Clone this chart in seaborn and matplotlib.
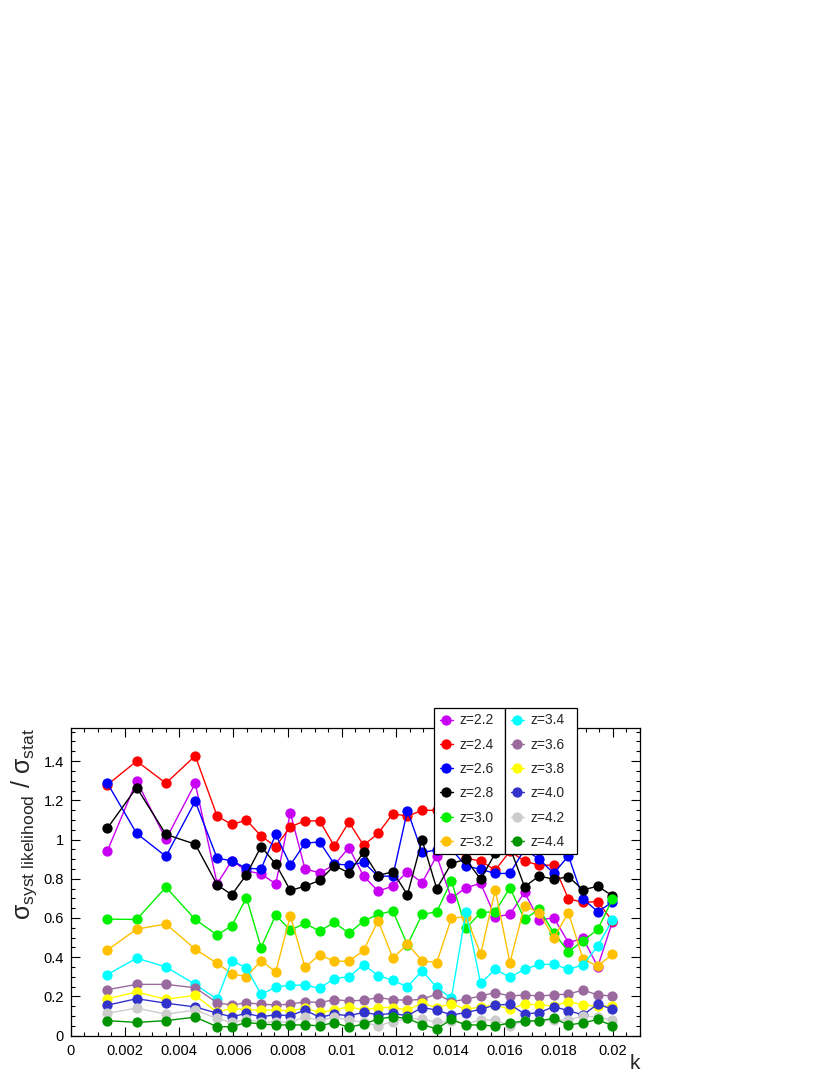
import numpy as np
import pandas as pd
import matplotlib
matplotlib.use("Agg")
import matplotlib.pyplot as plt
from matplotlib.lines import Line2D
from matplotlib.ticker import MultipleLocator
import seaborn as sns

sns.set_style("ticks")
plt.rcParams["font.family"] = ["Liberation Sans", "DejaVu Sans"]
plt.rcParams["mathtext.fontset"] = "custom"
plt.rcParams["mathtext.rm"] = "Liberation Sans"
plt.rcParams["mathtext.it"] = "Liberation Sans:italic"

# k bins
k = [0.00135, 0.00243, 0.00351, 0.00459, 0.00540, 0.00594, 0.00648, 0.00702,
     0.00756, 0.00810, 0.00864, 0.00918, 0.00972, 0.01026, 0.01080, 0.01134,
     0.01188, 0.01242, 0.01296, 0.01350, 0.01404, 0.01458, 0.01512, 0.01566,
     0.01620, 0.01674, 0.01728, 0.01782, 0.01836, 0.01890, 0.01944, 0.01998]

z22 = [0.942, 1.299, 1.001, 1.287, 0.774, 0.892, 0.841, 0.824, 0.774, 1.136, 0.850, 0.830,
       0.870, 0.959, 0.813, 0.737, 0.762, 0.836, 0.779, 0.917, 0.700, 0.754, 0.776, 0.606,
       0.618, 0.730, 0.589, 0.601, 0.474, 0.496, 0.351, 0.580]
z24 = [1.279, 1.400, 1.287, 1.427, 1.119, 1.077, 1.099, 1.018, 0.964, 1.065, 1.095, 1.095,
       0.967, 1.089, 0.971, 1.031, 1.132, 1.119, 1.149, 1.149, 1.020, 0.905, 0.890, 0.844,
       0.940, 0.890, 0.869, 0.869, 0.697, 0.680, 0.683, 0.585]
z26 = [1.287, 1.031, 0.914, 1.195, 0.904, 0.892, 0.853, 0.850, 1.026, 0.870, 0.981, 0.988,
       0.875, 0.870, 0.883, 0.813, 0.813, 1.148, 0.934, 0.947, 0.950, 0.865, 0.848, 0.827,
       0.827, 0.950, 0.900, 0.827, 0.917, 0.697, 0.632, 0.680]
z28 = [1.058, 1.265, 1.026, 0.976, 0.769, 0.718, 0.821, 0.964, 0.875, 0.740, 0.762, 0.791,
       0.867, 0.830, 0.934, 0.816, 0.836, 0.718, 0.998, 0.749, 0.878, 0.899, 0.797, 0.930,
       0.960, 0.759, 0.814, 0.797, 0.810, 0.743, 0.762, 0.713]
z30 = [0.594, 0.592, 0.757, 0.592, 0.513, 0.560, 0.703, 0.449, 0.614, 0.538, 0.572, 0.533,
       0.577, 0.522, 0.584, 0.618, 0.636, 0.463, 0.618, 0.631, 0.790, 0.547, 0.627, 0.632,
       0.754, 0.593, 0.645, 0.524, 0.428, 0.484, 0.541, 0.695]
z32 = [0.436, 0.543, 0.569, 0.441, 0.368, 0.316, 0.300, 0.382, 0.325, 0.611, 0.348, 0.412,
       0.379, 0.379, 0.434, 0.586, 0.395, 0.466, 0.382, 0.372, 0.598, 0.607, 0.416, 0.742,
       0.372, 0.661, 0.627, 0.499, 0.627, 0.389, 0.355, 0.414]
z34 = [0.311, 0.395, 0.350, 0.261, 0.185, 0.382, 0.345, 0.210, 0.247, 0.257, 0.257, 0.241,
       0.291, 0.300, 0.362, 0.306, 0.281, 0.249, 0.331, 0.246, 0.190, 0.632, 0.266, 0.338,
       0.297, 0.338, 0.363, 0.363, 0.338, 0.360, 0.457, 0.589]
z36 = [0.234, 0.261, 0.261, 0.244, 0.167, 0.156, 0.167, 0.160, 0.156, 0.160, 0.173, 0.168,
       0.183, 0.177, 0.180, 0.194, 0.183, 0.180, 0.185, 0.212, 0.173, 0.185, 0.202, 0.219,
       0.202, 0.207, 0.202, 0.207, 0.212, 0.232, 0.207, 0.202]
z38 = [0.188, 0.222, 0.185, 0.205, 0.118, 0.140, 0.131, 0.130, 0.130, 0.126, 0.140, 0.118,
       0.130, 0.148, 0.130, 0.143, 0.143, 0.131, 0.165, 0.143, 0.161, 0.134, 0.145, 0.156,
       0.134, 0.161, 0.156, 0.151, 0.173, 0.156, 0.150, 0.151]
z40 = [0.155, 0.188, 0.165, 0.146, 0.114, 0.096, 0.113, 0.096, 0.106, 0.101, 0.130, 0.093,
       0.109, 0.101, 0.118, 0.106, 0.113, 0.101, 0.143, 0.130, 0.105, 0.117, 0.134, 0.156,
       0.159, 0.110, 0.117, 0.147, 0.127, 0.105, 0.161, 0.134]
z42 = [0.114, 0.140, 0.109, 0.130, 0.087, 0.067, 0.084, 0.067, 0.071, 0.067, 0.096, 0.076,
       0.093, 0.079, 0.067, 0.050, 0.071, 0.087, 0.084, 0.067, 0.075, 0.060, 0.079, 0.079,
       0.048, 0.075, 0.072, 0.079, 0.080, 0.099, 0.095, 0.079]
z44 = [0.076, 0.067, 0.076, 0.094, 0.045, 0.045, 0.067, 0.059, 0.054, 0.054, 0.054, 0.050,
       0.066, 0.042, 0.059, 0.084, 0.096, 0.087, 0.056, 0.034, 0.082, 0.054, 0.054, 0.048,
       0.065, 0.074, 0.075, 0.088, 0.054, 0.065, 0.082, 0.050]

labels = ["z=2.2", "z=2.4", "z=2.6", "z=2.8", "z=3.0", "z=3.2",
          "z=3.4", "z=3.6", "z=3.8", "z=4.0", "z=4.2", "z=4.4"]
series = [z22, z24, z26, z28, z30, z32, z34, z36, z38, z40, z42, z44]
colors = ["#c800f4", "#ff0000", "#0000ff", "#000000", "#00f000", "#ffc000",
          "#00ffff", "#9a6a9e", "#ffff00", "#3333cc", "#cccccc", "#009400"]

fig = plt.figure(figsize=(8.3, 10.75), dpi=100)
ax = fig.add_axes([0.0853, 0.0367, 0.6858, 0.2863])

for lab, vals, col in zip(labels, series, colors):
    sns.lineplot(x=k, y=vals, ax=ax, color=col, marker="o", markersize=7.4,
                 markeredgewidth=0, linewidth=1.0, sort=False, legend=False)

ax.set_xlim(0, 0.0210)
ax.set_ylim(0, 1.57)
ax.xaxis.set_major_locator(MultipleLocator(0.002))
ax.xaxis.set_minor_locator(MultipleLocator(0.0005))
ax.yaxis.set_major_locator(MultipleLocator(0.2))
ax.yaxis.set_minor_locator(MultipleLocator(0.05))
ax.xaxis.set_major_formatter(plt.FuncFormatter(lambda v, p: "0" if abs(v) < 1e-9 else ("%g" % round(v, 4))))
ax.yaxis.set_major_formatter(plt.FuncFormatter(lambda v, p: "%g" % round(v, 2)))
ax.tick_params(which="both", direction="in", top=True, right=True, width=0.8,
               labelsize=10.5, colors="black")
ax.tick_params(which="major", length=6.5)
ax.tick_params(which="minor", length=3.2)
ax.tick_params(axis="x", pad=6)
ax.tick_params(axis="y", pad=5)
for s in ax.spines.values():
    s.set_linewidth(0.9)
    s.set_color("black")

ax.set_xlabel("k", fontsize=15, loc="right", labelpad=-3)
ax.set_ylabel(r"$\mathrm{\sigma}_{\mathrm{syst\ likelihood}}\ /\ \mathrm{\sigma}_{\mathrm{stat}}$",
              fontsize=18, loc="top")
ax.yaxis.set_label_coords(-0.055, 1.0)

def handles(idx):
    return [Line2D([0], [0], color=colors[i], marker="o", markersize=7.4,
                   markeredgewidth=0, linewidth=1.0) for i in idx]

legend_kw = dict(fontsize=10, frameon=True, fancybox=False, shadow=False,
                 edgecolor="black", framealpha=1.0, borderpad=0.4,
                 labelspacing=0.74, handlelength=0.95, handletextpad=0.5,
                 borderaxespad=0, mode="expand", loc="upper left")
leg1 = fig.legend(handles(range(6)), labels[:6],
                  bbox_to_anchor=(434 / 830, 1 - 709 / 1075, 71 / 830, 0.001), **legend_kw)
leg2 = fig.legend(handles(range(6, 12)), labels[6:],
                  bbox_to_anchor=(505 / 830, 1 - 709 / 1075, 72 / 830, 0.001), **legend_kw)
for lg in (leg1, leg2):
    lg.get_frame().set_linewidth(0.9)
    lg.set_zorder(10)

fig.savefig("out.png", dpi=100)
